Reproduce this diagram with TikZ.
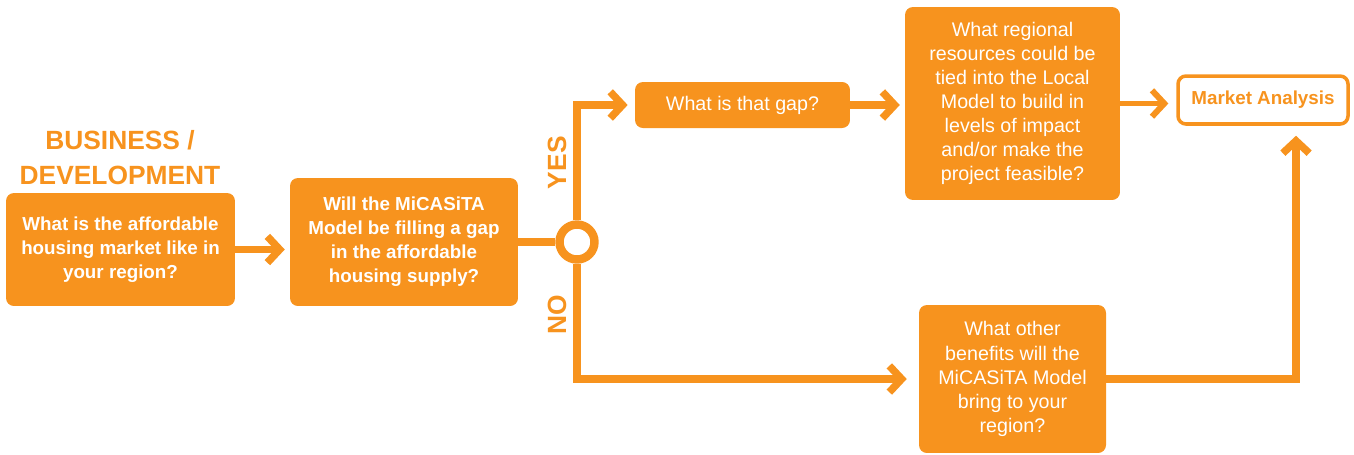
\documentclass[tikz,border=0pt]{standalone}
\usepackage{fontspec}
\setmainfont{Liberation Sans}
\usetikzlibrary{arrows.meta}
\definecolor{micorange}{RGB}{247,147,30}

\begin{document}
\begin{tikzpicture}[x=0.02cm, y=-0.02cm,
    qbox/.style={fill=micorange, rounded corners=4.5pt, text=white, align=center, inner sep=0pt,
        font=\fontsize{11.2}{13.7}\selectfont},
    bbox/.style={qbox, font=\bfseries\fontsize{10.7}{13.7}\selectfont},
    link/.style={draw=micorange, line width=4.25pt},
    flow/.style={link, -{Straight Barb[length=7pt, width=15pt]}},
    lbl/.style={text=micorange, font=\bfseries\fontsize{15}{20}\selectfont}]
        \useasboundingbox (0,0) rectangle (1354,454);

        \node[lbl, align=center] (title) at (120,157.5) {BUSINESS /\\DEVELOPMENT};

        \node[bbox, minimum width=4.58cm, minimum height=2.26cm] (market) at (120.5,249.5) {What is the affordable\\housing market like in\\your region?};
        \node[bbox, minimum width=4.56cm, minimum height=2.56cm] (gapq) at (404,242) {Will the MiCASiTA\\Model be filling a gap\\in the affordable\\housing supply?};
        \node[circle, draw=micorange, fill=white, line width=4.8pt, minimum size=0.7cm, inner sep=0pt] (split) at (577,242) {};

        \node[qbox, minimum width=4.3cm, minimum height=0.92cm] (gap) at (742.5,105) {What is that gap?};
        \node[qbox, minimum width=4.3cm, minimum height=3.86cm] (resources) at (1012.5,103.5) {What regional\\resources could be\\tied into the Local\\Model to build in\\levels of impact\\and/or make the\\project feasible?};
        \node[qbox, minimum width=3.74cm, minimum height=2.96cm] (benefits) at (1012.5,379) {What other\\benefits will the\\MiCASiTA Model\\bring to your\\region?};
        \node[draw=micorange, line width=2pt, fill=white, rounded corners=4.5pt, text=micorange,
            font=\bfseries\fontsize{10.7}{13.7}\selectfont, minimum width=3.4cm, minimum height=0.96cm] (analysis) at (1263,100) {Market Analysis};

        \draw[flow, shorten >=2.8pt] (market.east) -- (market.east -| gapq.west);
        \draw[link] (gapq.east) -- (split.west);
        \draw[flow, shorten >=4pt] (split.north) |- (gap.west)
            node[lbl, pos=0.25, above, rotate=90, outer sep=0pt, inner sep=6pt] {YES};
        \draw[flow, shorten >=6.8pt] (split.south) |- (benefits.west)
            node[lbl, pos=0.22, above, rotate=90, outer sep=0pt, inner sep=6pt] {NO};
        \draw[flow, shorten >=2.8pt] (gap.east) -- (gap.east -| resources.west);
        \draw[flow, line width=3.4pt, shorten >=4.5pt] (resources.east) -- (resources.east -| analysis.west);
        \draw[flow, shorten >=5.7pt] (benefits.east) -| ([xshift=0.66cm]analysis.south);
\end{tikzpicture}
\end{document}
